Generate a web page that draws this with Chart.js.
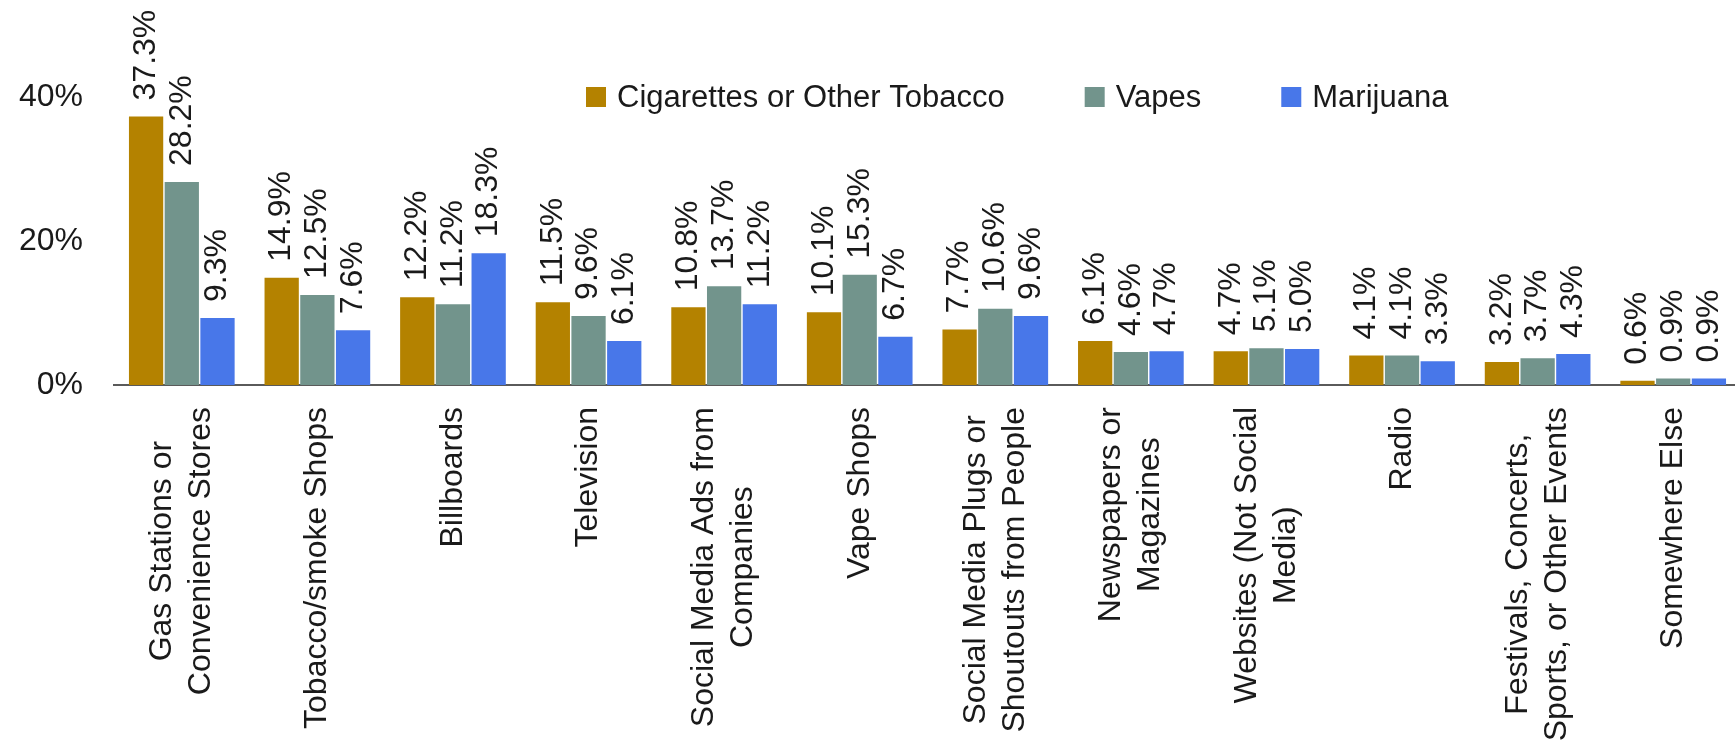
<!DOCTYPE html>
<html>
<head>
<meta charset="utf-8">
<script src="https://cdn.jsdelivr.net/npm/chart.js@4.4.1/dist/chart.umd.min.js"></script>
<style>
  html, body { margin: 0; padding: 0; background: #fff; overflow: hidden; }
  #wrap { width: 1741px; height: 744px; }
</style>
</head>
<body>
<div id="wrap"><canvas id="exposure_chart"></canvas></div>
<script>
const categories = [
  ['Gas Stations or', 'Convenience Stores'],
  'Tobacco/smoke Shops',
  'Billboards',
  'Television',
  ['Social Media Ads from', 'Companies'],
  'Vape Shops',
  ['Social Media Plugs or', 'Shoutouts from People'],
  ['Newspapers or', 'Magazines'],
  ['Websites (Not Social', 'Media)'],
  'Radio',
  ['Festivals, Concerts,', 'Sports, or Other Events'],
  'Somewhere Else'
]
const tobacco = [37.3, 14.9, 12.2, 11.5, 10.8, 10.1, 7.7, 6.1, 4.7, 4.1, 3.2, 0.6]
const vapes = [28.2, 12.5, 11.2, 9.6, 13.7, 15.3, 10.6, 4.6, 5.1, 4.1, 3.7, 0.9]
const marijuana = [9.3, 7.6, 18.3, 6.1, 11.2, 6.7, 9.6, 4.7, 5.0, 3.3, 4.3, 0.9]
const seriesNames = ['Cigarettes or Other Tobacco', 'Vapes', 'Marijuana']
const seriesColors = ['#B48200', '#72948C', '#4877E9']
const yTicks = [0, 20, 40]

const FONT = "'Liberation Sans', Arial, sans-serif"
const TEXT = '#1a1a1a'

// percentage above each bar, turned on its side
const valueLabels = {
  id: 'valueLabels',
  afterDatasetsDraw(chart) {
    const ctx = chart.ctx
    ctx.save()
    ctx.font = `32px ${FONT}`
    ctx.fillStyle = TEXT
    ctx.textAlign = 'left'
    ctx.textBaseline = 'middle'
    chart.data.datasets.forEach((ds, i) => {
      chart.getDatasetMeta(i).data.forEach((bar, j) => {
        ctx.save()
        ctx.translate(bar.x, bar.y - 16)
        ctx.rotate(-Math.PI / 2)
        ctx.fillText(ds.data[j].toFixed(1) + '%', 0, 0)
        ctx.restore()
      })
    })
    ctx.restore()
  }
}

// vertical category names, lines centred on each other
const categoryLabels = {
  id: 'categoryLabels',
  afterDraw(chart) {
    const ctx = chart.ctx
    const xScale = chart.scales.x
    const top = chart.chartArea.bottom + 22
    const lineH = 39
    ctx.save()
    ctx.font = `32px ${FONT}`
    ctx.fillStyle = TEXT
    ctx.textAlign = 'center'
    ctx.textBaseline = 'middle'
    chart.data.labels.forEach((lbl, i) => {
      const lines = Array.isArray(lbl) ? lbl : [lbl]
      const maxW = Math.max(...lines.map(l => ctx.measureText(l).width))
      const x = xScale.getPixelForValue(i)
      lines.forEach((line, k) => {
        ctx.save()
        ctx.translate(x + (k - (lines.length - 1) / 2) * lineH, top + maxW / 2)
        ctx.rotate(-Math.PI / 2)
        ctx.fillText(line, 0, 0)
        ctx.restore()
      })
    })
    ctx.restore()
  }
}

// legend sits inside the plot, top right
const insideLegend = {
  id: 'insideLegend',
  afterDraw(chart) {
    const ctx = chart.ctx
    let x = 586
    const cy = 97
    ctx.save()
    ctx.font = `31px ${FONT}`
    ctx.textAlign = 'left'
    ctx.textBaseline = 'middle'
    chart.data.datasets.forEach(ds => {
      ctx.fillStyle = ds.backgroundColor
      ctx.fillRect(x, cy - 10, 20, 20)
      ctx.fillStyle = TEXT
      ctx.fillText(ds.label, x + 31, cy + 1)
      x += 31 + ctx.measureText(ds.label).width + 80
    })
    ctx.restore()
  }
}

const seriesData = [tobacco, vapes, marijuana]

new Chart(document.querySelector('#exposure_chart'), {
  type: 'bar',
  data: {
    labels: categories,
    datasets: seriesNames.map((name, i) => ({
      label: name,
      data: seriesData[i],
      backgroundColor: seriesColors[i],
      borderWidth: 0,
      categoryPercentage: 0.79,
      barPercentage: 0.96
    }))
  },
  options: {
    responsive: true,
    maintainAspectRatio: false,
    animation: false,
    layout: {
      padding: { top: 25, bottom: 359, left: 0, right: 0 }
    },
    plugins: {
      legend: { display: false },
      title: { display: false },
      tooltip: { enabled: false }
    },
    scales: {
      x: {
        grid: { display: false, drawTicks: false },
        border: { display: true, color: '#5a5a5a', width: 2 },
        ticks: { display: false },
        afterFit(s) {
          s.height = 0
          s.paddingLeft = 0
          s.paddingRight = 0
        }
      },
      y: {
        min: 0,
        max: 50,
        grid: { display: false, drawTicks: false },
        border: { display: false },
        ticks: {
          padding: 31,
          color: TEXT,
          font: { family: FONT, size: 32 },
          callback: v => v + '%'
        },
        afterBuildTicks(s) { s.ticks = yTicks.map(v => ({ value: v })) },
        afterFit(s) {
          s.width = 114
          s.paddingTop = 0
          s.paddingBottom = 0
        }
      }
    }
  },
  plugins: [valueLabels, categoryLabels, insideLegend]
})
</script>
</body>
</html>
